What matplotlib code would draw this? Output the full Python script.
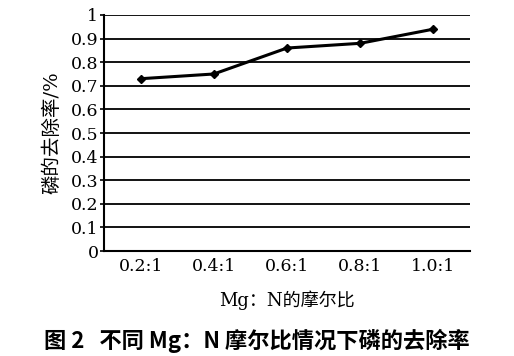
import matplotlib
matplotlib.use("Agg")
import matplotlib.pyplot as plt

categories = ["0.2:1", "0.4:1", "0.6:1", "0.8:1", "1.0:1"]
removal = [0.73, 0.75, 0.86, 0.88, 0.94]
yticks = [0, 0.1, 0.2, 0.3, 0.4, 0.5, 0.6, 0.7, 0.8, 0.9, 1]
ytick_labels = ["0", "0.1", "0.2", "0.3", "0.4", "0.5", "0.6", "0.7", "0.8", "0.9", "1"]

plt.rcParams['font.family'] = ['DejaVu Serif', 'Noto Sans CJK SC', 'DejaVu Sans']

fig = plt.figure(figsize=(5.14, 3.56), dpi=100)
ax = fig.add_axes([0.2023, 0.2949, 0.7121, 0.663])

x = list(range(len(categories)))
ax.plot(x, removal, color='black', lw=2.2, marker='D', markersize=4.5, zorder=3)

ax.set_xlim(-0.5, len(categories) - 0.5)
ax.set_ylim(0, 1)
ax.set_yticks(yticks)
ax.set_yticklabels(ytick_labels, fontsize=12.5)
ax.set_xticks(x)
ax.set_xticklabels(categories, fontsize=12.5)
ax.tick_params(axis='x', length=0, pad=5)
ax.tick_params(axis='y', length=3, width=1.2, direction='out', pad=1)

ax.grid(axis='y', color='black', lw=1.3)
ax.set_axisbelow(True)
for s in ['top', 'right']:
    ax.spines[s].set_visible(False)
ax.spines['left'].set_linewidth(1.5)
ax.spines['bottom'].set_linewidth(1.5)

ax.set_ylabel("磷的去除率/%", fontsize=14, labelpad=7)
ax.set_xlabel("Mg：N的摩尔比", fontsize=13, labelpad=11)

fig.text(0.5, 0.042, "图 2   不同 Mg：N 摩尔比情况下磷的去除率", ha='center', va='center',
         fontsize=16, fontweight='bold', family=['Noto Sans CJK SC', 'DejaVu Sans'])

fig.savefig("out.png", dpi=100)
